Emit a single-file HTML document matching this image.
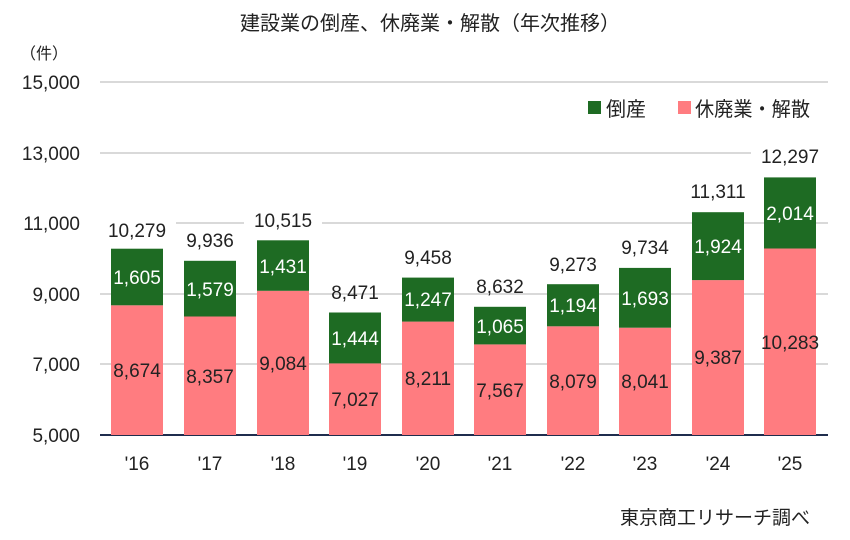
<!DOCTYPE html>
<html><head><meta charset="utf-8"><style>body{margin:0;background:#fff}svg{display:block}text{font-family:"Liberation Sans","Noto Sans CJK JP",sans-serif;fill:#222}</style></head><body>
<svg width="850" height="540" xmlns="http://www.w3.org/2000/svg">
<rect width="850" height="540" fill="#fff"/>
<text x="430" y="30" font-size="20" text-anchor="middle">建設業の倒産、休廃業・解散（年次推移）</text>
<text x="20" y="59" font-size="16">（件）</text>
<g stroke="#d9d9d9" stroke-width="2">
<line x1="100" y1="82" x2="828" y2="82"/><line x1="100" y1="153" x2="828" y2="153"/><line x1="100" y1="223" x2="828" y2="223"/><line x1="100" y1="294" x2="828" y2="294"/><line x1="100" y1="364" x2="828" y2="364"/>
</g>
<line x1="100" y1="435" x2="828" y2="435" stroke="#1f2d4d" stroke-width="2"/>
<g font-size="19" text-anchor="end">
<text x="80" y="89">15,000</text><text x="80" y="160">13,000</text><text x="80" y="230">11,000</text><text x="80" y="301">9,000</text><text x="80" y="371">7,000</text><text x="80" y="442">5,000</text>
</g>
<rect x="588" y="101" width="13" height="13" fill="#1e6b23"/><text x="606" y="116" font-size="20">倒産</text>
<rect x="678" y="101" width="13" height="13" fill="#ff7c80"/><text x="695" y="116" font-size="20" textLength="115" lengthAdjust="spacingAndGlyphs">休廃業・解散</text>
<g font-size="19" text-anchor="middle">
<g>
<rect x="111" y="305.3" width="52" height="129.7" fill="#ff7c80"/><rect x="111" y="248.7" width="52" height="56.6" fill="#1e6b23"/>
<text x="137" y="377">8,674</text><text x="137" y="284" style="fill:#fff">1,605</text>
<rect x="98" y="218" width="78" height="24" fill="#fff"/><text x="137" y="237">10,279</text><text x="137" y="470">'16</text>
</g>
<g>
<rect x="184" y="316.5" width="52" height="118.5" fill="#ff7c80"/><rect x="184" y="260.8" width="52" height="55.7" fill="#1e6b23"/>
<text x="210" y="383">8,357</text><text x="210" y="296" style="fill:#fff">1,579</text>
<text x="210" y="247">9,936</text><text x="210" y="470">'17</text>
</g>
<g>
<rect x="257" y="290.8" width="52" height="144.2" fill="#ff7c80"/><rect x="257" y="240.3" width="52" height="50.5" fill="#1e6b23"/>
<text x="283" y="370">9,084</text><text x="283" y="273" style="fill:#fff">1,431</text>
<rect x="244" y="210" width="78" height="24" fill="#fff"/><text x="283" y="227">10,515</text><text x="283" y="470">'18</text>
</g>
<g>
<rect x="329" y="363.4" width="52" height="71.6" fill="#ff7c80"/><rect x="329" y="312.5" width="52" height="50.9" fill="#1e6b23"/>
<text x="355" y="406">7,027</text><text x="355" y="345" style="fill:#fff">1,444</text>
<text x="355" y="299">8,471</text><text x="355" y="470">'19</text>
</g>
<g>
<rect x="402" y="321.6" width="52" height="113.4" fill="#ff7c80"/><rect x="402" y="277.6" width="52" height="44" fill="#1e6b23"/>
<text x="428" y="385">8,211</text><text x="428" y="306" style="fill:#fff">1,247</text>
<text x="428" y="264">9,458</text><text x="428" y="470">'20</text>
</g>
<g>
<rect x="474" y="344.4" width="52" height="90.6" fill="#ff7c80"/><rect x="474" y="306.8" width="52" height="37.6" fill="#1e6b23"/>
<text x="500" y="397">7,567</text><text x="500" y="333" style="fill:#fff">1,065</text>
<text x="500" y="293">8,632</text><text x="500" y="470">'21</text>
</g>
<g>
<rect x="547" y="326.3" width="52" height="108.7" fill="#ff7c80"/><rect x="547" y="284.2" width="52" height="42.1" fill="#1e6b23"/>
<text x="573" y="388">8,079</text><text x="573" y="312" style="fill:#fff">1,194</text>
<text x="573" y="271">9,273</text><text x="573" y="470">'22</text>
</g>
<g>
<rect x="619" y="327.7" width="52" height="107.3" fill="#ff7c80"/><rect x="619" y="267.9" width="52" height="59.8" fill="#1e6b23"/>
<text x="645" y="388">8,041</text><text x="645" y="305" style="fill:#fff">1,693</text>
<text x="645" y="254">9,734</text><text x="645" y="470">'23</text>
</g>
<g>
<rect x="692" y="280.1" width="52" height="154.9" fill="#ff7c80"/><rect x="692" y="212.2" width="52" height="67.9" fill="#1e6b23"/>
<text x="718" y="364">9,387</text><text x="718" y="253" style="fill:#fff">1,924</text>
<rect x="679" y="181" width="78" height="24" fill="#fff"/><text x="718" y="198">11,311</text><text x="718" y="470">'24</text>
</g>
<g>
<rect x="764" y="248.5" width="52" height="186.5" fill="#ff7c80"/><rect x="764" y="177.4" width="52" height="71.1" fill="#1e6b23"/>
<text x="790" y="349">10,283</text><text x="790" y="220" style="fill:#fff">2,014</text>
<rect x="751" y="145" width="78" height="24" fill="#fff"/><text x="790" y="163">12,297</text><text x="790" y="470">'25</text>
</g>
</g>
<text x="810" y="524" font-size="19" text-anchor="end">東京商工リサーチ調べ</text>
</svg>
</body></html>
